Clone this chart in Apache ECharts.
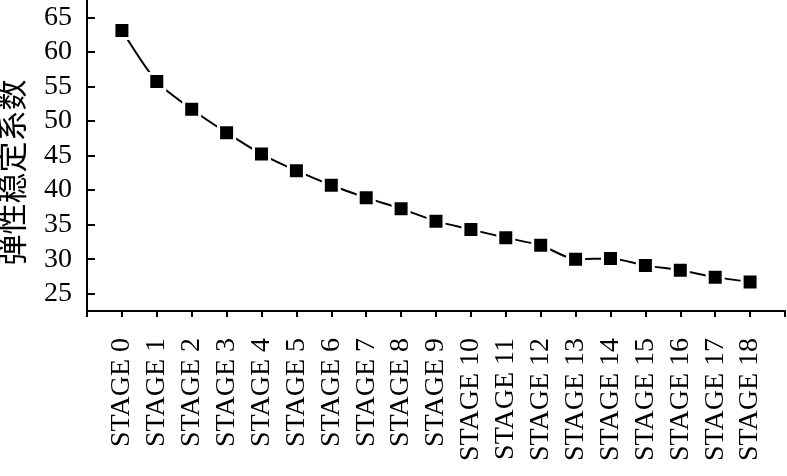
<!DOCTYPE html>
<html>
<head>
<meta charset="utf-8">
<script src="https://cdn.jsdelivr.net/npm/echarts@6/dist/echarts.min.js"></script>
<style>
html,body{margin:0;padding:0;background:#fff;}
#main{width:787px;height:476px;}
</style>
</head>
<body>
<div id="main"></div>
<script>
const categories = ['STAGE 0','STAGE 1','STAGE 2','STAGE 3','STAGE 4','STAGE 5','STAGE 6','STAGE 7','STAGE 8','STAGE 9','STAGE 10','STAGE 11','STAGE 12','STAGE 13','STAGE 14','STAGE 15','STAGE 16','STAGE 17','STAGE 18'];
const values = [63.1, 55.7, 51.7, 48.3, 45.2, 42.8, 40.7, 38.9, 37.3, 35.5, 34.3, 33.1, 32.0, 30.0, 30.1, 29.1, 28.4, 27.4, 26.7];
const yTicks = [25, 30, 35, 40, 45, 50, 55, 60, 65];
const yName = '弹性稳定系数';

const chart = echarts.init(document.getElementById('main'), null, {renderer: 'canvas'});
const serif = '"Liberation Serif", "Times New Roman", serif';
chart.setOption({
  animation: false,
  backgroundColor: '#fff',
  grid: {left: 87, right: 2, top: 0, bottom: 165, containLabel: false, outerBoundsMode: 'none'},
  xAxis: {
    type: 'value',
    min: -1, max: 19, interval: 1,
    splitLine: {show: false},
    axisLine: {show: true, onZero: false, lineStyle: {color: '#000', width: 2}},
    axisTick: {show: true, inside: false, length: 6, lineStyle: {color: '#000', width: 2}},
    axisLabel: {
      rotate: 90, margin: 27, color: '#000',
      fontFamily: serif, fontSize: 28,
      showMinLabel: true, showMaxLabel: true,
      formatter: function (v) { return categories[v] !== undefined ? categories[v] : ''; }
    }
  },
  yAxis: {
    type: 'value',
    min: 22.5, max: 67.5,
    splitLine: {show: false},
    axisLine: {show: true, onZero: false, lineStyle: {color: '#000', width: 2}},
    axisTick: {show: true, inside: true, length: 8, customValues: yTicks, lineStyle: {color: '#000', width: 2}},
    axisLabel: {customValues: yTicks, margin: 15, color: '#000', fontFamily: serif, fontSize: 28},
    name: yName,
    nameLocation: 'middle',
    nameGap: 60,
    nameRotate: 90,
    nameTextStyle: {color: '#000', fontFamily: '"Noto Sans CJK SC", sans-serif', fontSize: 31, fontWeight: 'normal', padding: [0, 34, 0, 0]}
  },
  series: [{
    type: 'line',
    data: values.map((v, i) => [i, v]),
    smooth: 0.25,
    symbol: 'rect',
    symbolSize: 16,
    lineStyle: {color: '#000', width: 2},
    itemStyle: {color: '#000', borderColor: '#fff', borderWidth: 3},
    emphasis: {disabled: true}
  }]
});
</script>
</body>
</html>
